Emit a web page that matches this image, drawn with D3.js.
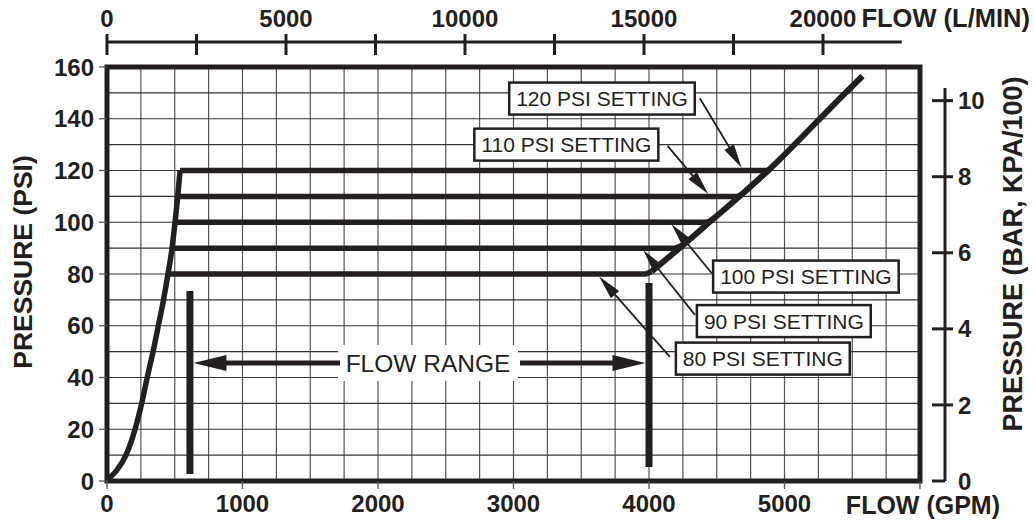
<!DOCTYPE html>
<html>
<head>
<meta charset="utf-8">
<script src="https://cdn.jsdelivr.net/npm/d3@7"></script>
<style>
  html, body { margin: 0; padding: 0; background: #fff; }
  svg { display: block; }
  text { font-family: "Liberation Sans", Arial, Helvetica, sans-serif; fill: #231f20; }
</style>
</head>
<body>
<svg id="chart" width="1034" height="523"></svg>
<script>
// ---------------- DATA ----------------
const gpmTicks = [0, 1000, 2000, 3000, 4000, 5000];
const psiTicks = [0, 20, 40, 60, 80, 100, 120, 140, 160];
const lpmTicks = [0, 2500, 5000, 7500, 10000, 12500, 15000, 17500, 20000];
const lpmLabels = [0, 5000, 10000, 15000, 20000];
const barTicks = [0, 2, 4, 6, 8, 10];

// pump (rising) curve below relief settings
const pumpFlow = [0, 25, 70, 140, 207, 256, 297, 340, 379, 417, 450, 480, 502, 522, 539];
const pumpPsi  = [0, 1.5, 4, 10, 20, 30, 40, 50, 60, 70, 80, 90, 100, 110, 120];

// relief settings (horizontal lines)
const settingPsi     = [80, 90, 100, 110, 120];
const settingEndFlow = [3960, 4180, 4420, 4650, 4845];
const settingLabels  = ["80 PSI SETTING", "90 PSI SETTING", "100 PSI SETTING", "110 PSI SETTING", "120 PSI SETTING"];

// upper limit curve (right diagonal)
const limitFlow = [4020, 4270, 4490, 4690, 4880, 5261, 5450, 5576];
const limitPsi  = [81, 92, 102, 111, 120, 140, 150, 156.5];

// flow range
const flowRangeMin = 612, flowRangeMax = 4000;

// ---------------- LAYOUT ----------------
const ink = "#231f20";
const svg = d3.select("#chart");
const X0 = 107, X1 = 920, Y0 = 481, Y1 = 67;
const x = d3.scaleLinear().domain([0, 6000]).range([X0, X1]);
const y = d3.scaleLinear().domain([0, 160]).range([Y0, Y1]);
const xL = d3.scaleLinear().domain([0, 6000 * 3.785]).range([X0, X1]);
const yB = d3.scaleLinear().domain([0, 160 / 14.7]).range([Y0, Y1]);

// grid
const g = svg.append("g");
g.selectAll("line.v").data(d3.range(250, 6000, 250)).join("line")
  .attr("x1", d => x(d)).attr("x2", d => x(d)).attr("y1", Y1).attr("y2", Y0)
  .attr("stroke", "#555").attr("stroke-width", 1.2);
g.selectAll("line.h").data(d3.range(10, 160, 10)).join("line")
  .attr("x1", X0).attr("x2", X1).attr("y1", d => y(d)).attr("y2", d => y(d))
  .attr("stroke", "#333").attr("stroke-width", 1.2);

// white box behind FLOW RANGE
const frPsi = 45.6, frCenter = 2369;
svg.append("rect").attr("x", x(frCenter) - 90).attr("y", y(frPsi) - 18)
  .attr("width", 180).attr("height", 36).attr("fill", "#fff");

// curves
const line = d3.line().x(d => x(d[0])).y(d => y(d[1])).curve(d3.curveMonotoneX);
svg.append("path").attr("d", line(pumpFlow.map((f, i) => [f, pumpPsi[i]])))
  .attr("fill", "none").attr("stroke", ink).attr("stroke-width", 5.5);
settingPsi.forEach((p, i) => {
  const start = pumpFlow[pumpPsi.indexOf(p)];
  const pts = [[start, p], [settingEndFlow[i], p], [limitFlow[i], limitPsi[i]]];
  svg.append("path").attr("d", line(pts)).attr("fill", "none")
    .attr("stroke", ink).attr("stroke-width", 5.5);
});
svg.append("path").attr("d", line(limitFlow.map((f, i) => [f, limitPsi[i]])))
  .attr("fill", "none").attr("stroke", ink).attr("stroke-width", 6);

// arrowhead helper
function arrowHead(x1, y1, x2, y2, len, half) {
  const a = Math.atan2(y2 - y1, x2 - x1);
  const bx = x2 - len * Math.cos(a), by = y2 - len * Math.sin(a);
  const px = -Math.sin(a) * half, py = Math.cos(a) * half;
  svg.append("path").attr("d", `M${x2},${y2}L${bx + px},${by + py}L${bx - px},${by - py}Z`).attr("fill", ink);
}

// flow range bars
[[flowRangeMin, 2.7, 73.4], [flowRangeMax, 5.4, 76.5]].forEach(([f, a, b]) => {
  svg.append("line").attr("x1", x(f)).attr("x2", x(f)).attr("y1", y(a)).attr("y2", y(b))
    .attr("stroke", ink).attr("stroke-width", 7);
});
const fy = y(frPsi);
const lt = x(flowRangeMin) + 3.5, rt = x(flowRangeMax) - 3.5;
svg.append("line").attr("x1", lt + 20).attr("x2", x(frCenter) - 88).attr("y1", fy).attr("y2", fy)
  .attr("stroke", ink).attr("stroke-width", 5);
svg.append("line").attr("x1", x(frCenter) + 92).attr("x2", rt - 20).attr("y1", fy).attr("y2", fy)
  .attr("stroke", ink).attr("stroke-width", 5);
arrowHead(lt + 40, fy, lt, fy, 33, 8);
arrowHead(rt - 40, fy, rt, fy, 33, 8);
svg.append("text").attr("x", x(frCenter)).attr("y", fy).attr("dy", "0.36em")
  .attr("text-anchor", "middle").attr("font-size", 24.5).text("FLOW RANGE");

// callouts: [box center flow, box center psi, leader start flow, psi, tip flow, psi]
const callouts = [
  [4840, 47.3, 4154, 48.0, 3632, 79.0],
  [4995, 61.8, 4339, 64.2, 3957, 89.3],
  [5158, 79.0, 4462, 80.4, 4167, 99.2],
  [3390, 130.0, 4137, 129.5, 4437, 110.9],
  [3653, 147.8, 4375, 147.9, 4683, 121.1]
];
callouts.forEach((c, i) => {
  const sx = x(c[2]), sy = y(c[3]), tx = x(c[4]), ty = y(c[5]);
  const a = Math.atan2(ty - sy, tx - sx);
  svg.append("line").attr("x1", sx).attr("y1", sy)
    .attr("x2", tx - 18 * Math.cos(a)).attr("y2", ty - 18 * Math.sin(a))
    .attr("stroke", ink).attr("stroke-width", 1.8);
  arrowHead(sx, sy, tx, ty, 24, 5.5);
});
callouts.forEach((c, i) => {
  const cx = x(c[0]), cy = y(c[1]);
  const t = svg.append("text").attr("x", cx).attr("y", cy).attr("dy", "0.36em")
    .attr("text-anchor", "middle").attr("font-size", 21).text(settingLabels[i]);
  const bb = t.node().getBBox();
  svg.insert("rect", () => t.node())
    .attr("x", bb.x - 7).attr("y", cy - 16).attr("width", bb.width + 14).attr("height", 32)
    .attr("fill", "#fff").attr("stroke", ink).attr("stroke-width", 2.5);
});

// plot frame
svg.append("rect").attr("x", X0).attr("y", Y1).attr("width", X1 - X0).attr("height", Y0 - Y1)
  .attr("fill", "none").attr("stroke", ink).attr("stroke-width", 5);

// left axis ticks + labels
svg.selectAll("line.lt").data(psiTicks).join("line")
  .attr("x1", X0 - 8).attr("x2", X0).attr("y1", d => y(d)).attr("y2", d => y(d))
  .attr("stroke", "#555").attr("stroke-width", 1.3);
svg.selectAll("text.ly").data(psiTicks).join("text")
  .attr("x", 94).attr("y", d => y(d)).attr("dy", "0.36em").attr("text-anchor", "end")
  .attr("font-size", 24).attr("font-weight", "bold").text(d => d);
svg.append("text").attr("transform", `translate(32,262) rotate(-90)`)
  .attr("text-anchor", "middle").attr("font-size", 26.5).attr("font-weight", "bold")
  .text("PRESSURE (PSI)");

// bottom axis
svg.selectAll("line.bt").data(d3.range(0, 7000, 1000)).join("line")
  .attr("x1", d => x(d)).attr("x2", d => x(d)).attr("y1", Y0).attr("y2", Y0 + 8)
  .attr("stroke", "#555").attr("stroke-width", 1.3);
svg.selectAll("text.bx").data(gpmTicks).join("text")
  .attr("x", d => x(d)).attr("y", 512).attr("text-anchor", "middle")
  .attr("font-size", 24).attr("font-weight", "bold").text(d => d);
svg.append("text").attr("x", 1000).attr("y", 514).attr("text-anchor", "end")
  .attr("font-size", 25).attr("font-weight", "bold").text("FLOW (GPM)");

// top axis (L/MIN)
const topY = 42;
svg.append("line").attr("x1", xL(0)).attr("x2", xL(22200)).attr("y1", topY).attr("y2", topY)
  .attr("stroke", ink).attr("stroke-width", 3);
svg.selectAll("line.tt").data(lpmTicks).join("line")
  .attr("x1", d => xL(d)).attr("x2", d => xL(d)).attr("y1", topY - 8).attr("y2", topY + 13)
  .attr("stroke", ink).attr("stroke-width", 3);
svg.selectAll("text.tx").data(lpmLabels).join("text")
  .attr("x", d => xL(d)).attr("y", 27).attr("text-anchor", "middle")
  .attr("font-size", 24).attr("font-weight", "bold").text(d => d);
svg.append("text").attr("x", 1030).attr("y", 27).attr("text-anchor", "end")
  .attr("font-size", 25.5).attr("font-weight", "bold").text("FLOW (L/MIN)");

// right axis (BAR)
const rX = 945;
svg.append("line").attr("x1", rX).attr("x2", rX).attr("y1", yB(0)).attr("y2", yB(10.33))
  .attr("stroke", ink).attr("stroke-width", 3);
svg.selectAll("line.rt").data(barTicks).join("line")
  .attr("x1", rX - 13).attr("x2", d => d === 0 ? rX : rX + 8).attr("y1", d => yB(d)).attr("y2", d => yB(d))
  .attr("stroke", ink).attr("stroke-width", 3);
svg.selectAll("text.ry").data(barTicks).join("text")
  .attr("x", 958).attr("y", d => yB(d)).attr("dy", "0.36em")
  .attr("font-size", 24).attr("font-weight", "bold").text(d => d);
svg.append("text").attr("transform", `translate(1022,254) rotate(-90)`)
  .attr("text-anchor", "middle").attr("font-size", 27).attr("font-weight", "bold")
  .text("PRESSURE (BAR, KPA/100)");
</script>
</body>
</html>
